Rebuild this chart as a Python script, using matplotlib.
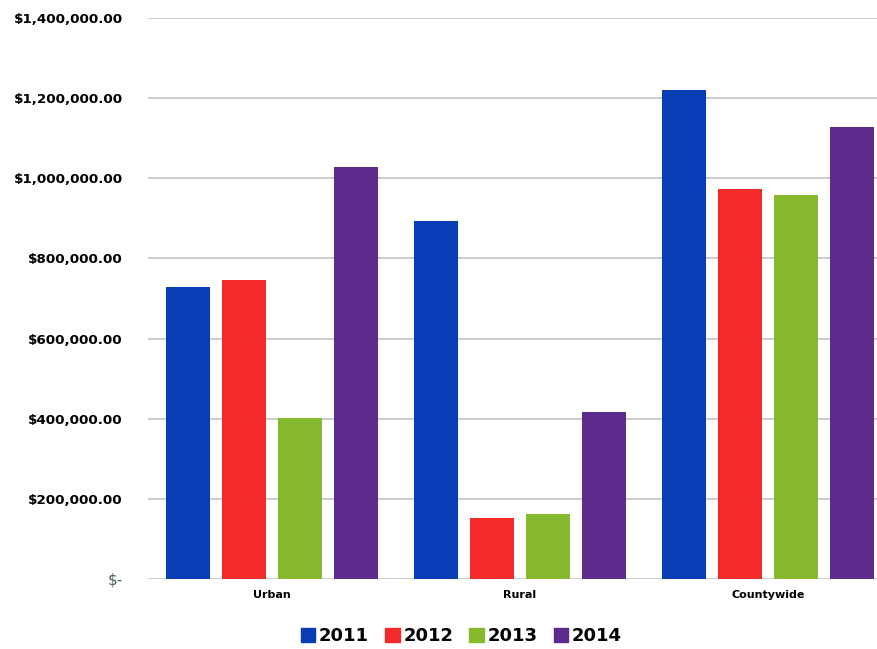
import numpy as np
import matplotlib.pyplot as plt
from matplotlib.ticker import FuncFormatter
from matplotlib.patches import Patch

categories = ['Urban', 'Rural', 'Countywide']
years = ['2011', '2012', '2013', '2014']
v2011 = [730000, 894000, 1221000]
v2012 = [746000, 152000, 974000]
v2013 = [402000, 162000, 958000]
v2014 = [1028000, 417000, 1128000]
colors = ['#0a3db5', '#f22a2a', '#86b92e', '#5b2a8a']


def money(v, pos):
    if v == 0:
        return '$-'
    return '${:,.2f}'.format(v)


fig = plt.figure(figsize=(8.77, 6.49), dpi=100)
ax = fig.add_axes([0.169, 0.108, 0.831, 0.864])

x = np.arange(len(categories))
width = 0.178
step = 0.226
for i, (vals, c) in enumerate(zip([v2011, v2012, v2013, v2014], colors)):
    ax.bar(x + (i - 1.5) * step, vals, width, color=c, zorder=3)

ax.set_ylim(0, 1400000)
ax.set_xlim(-0.5, 2.44)
ax.set_yticks(np.arange(0, 1400001, 200000))
ax.yaxis.set_major_formatter(FuncFormatter(money))
ax.grid(axis='y', color='#c8c8c8', linewidth=1.3, zorder=0)
for s in ax.spines.values():
    s.set_visible(False)
ax.tick_params(axis='both', length=0)
ax.tick_params(axis='y', pad=18.5)
ax.tick_params(axis='x', pad=8)
ax.set_xticks(x)
ax.set_xticklabels(categories, fontsize=8, fontweight='bold')
for lab in ax.get_yticklabels():
    lab.set_fontsize(9.7)
    lab.set_fontweight('bold')
ax.get_yticklabels()[0].set_color('#4a6060')
ax.get_yticklabels()[0].set_fontweight('normal')
ax.get_yticklabels()[0].set_fontsize(11)

handles = [Patch(color=c, label=y) for c, y in zip(colors, years)]
fig.legend(handles=handles, loc='center', bbox_to_anchor=(0.526, 0.02),
           ncol=4, frameon=False, prop={'size': 13, 'weight': 'bold'},
           handlelength=0.8, handleheight=0.8, handletextpad=0.2,
           columnspacing=0.9)

fig.savefig('out.png', dpi=100)
